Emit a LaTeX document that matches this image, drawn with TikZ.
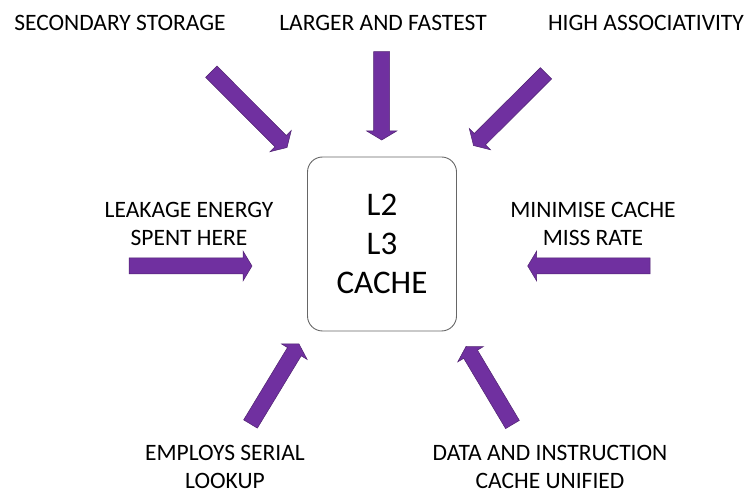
\documentclass[tikz,border=0pt]{standalone}
\usepackage{fontspec}
\setmainfont{Carlito}
\usetikzlibrary{calc}
\definecolor{arrowpurple}{HTML}{7030A0}
\definecolor{arrowedge}{HTML}{4F2270}
\definecolor{boxedge}{HTML}{666666}
\tikzset{
  arrowfill/.style={fill=arrowpurple, draw=arrowedge, line width=0.5pt, line join=miter},
  cachebox/.style={draw=boxedge, line width=0.9pt, rounded corners=15pt, minimum width=149pt, minimum height=174pt, align=center, font=\fontsize{33}{39}\selectfont, inner sep=0pt},
  lbl/.style={align=center, font=\fontsize{23.5}{28}\selectfont, inner sep=0pt}
}
\newcommand\blockarr[2]{%
  \coordinate (b#1) at ($(#2)!9pt!(#1)$);
  \path[arrowfill] ($(#1)!8pt!90:(#2)$) -- ($(b#1)!8pt!-90:(#1)$) -- ($(b#1)!15pt!-90:(#1)$) -- (#2)
     -- ($(b#1)!15pt!90:(#1)$) -- ($(b#1)!8pt!90:(#1)$) -- ($(#1)!8pt!-90:(#2)$) -- cycle;}
\begin{document}
\begin{tikzpicture}[x=1pt,y=-1pt]
\useasboundingbox (0,0) rectangle (745,494);
\node[cachebox] (box) at (382,244) {L2\\L3\\CACHE};
\node[lbl] (sec) at (120,22.7) {SECONDARY STORAGE};
\node[lbl] (lar) at (383,22.7) {LARGER AND FASTEST};
\node[lbl] (hig) at (646,22.7) {HIGH ASSOCIATIVITY};
\node[lbl] (lea) at (189,224) {LEAKAGE ENERGY\\SPENT HERE};
\node[lbl] (min) at (593,224) {MINIMISE CACHE\\MISS RATE};
\node[lbl] (emp) at (225,466.7) {EMPLOYS SERIAL\\LOOKUP};
\node[lbl] (dat) at (550,466.7) {DATA AND INSTRUCTION\\CACHE UNIFIED};
\coordinate (t1) at (211.3,71.7);  \coordinate (h1) at (287,147.5);
\coordinate (t2) at (381.7,51.7);  \coordinate (h2) at (381.7,140);
\coordinate (t3) at (546,73.3);    \coordinate (h3) at (473.5,145.5);
\coordinate (t4) at (129,266);     \coordinate (h4) at (252,266);
\coordinate (t5) at (650,266);     \coordinate (h5) at (527.7,266);
\coordinate (t6) at (250.5,424);   \coordinate (h6) at (299,344);
\coordinate (t7) at (512.5,424.5); \coordinate (h7) at (466,346.5);
\blockarr{t1}{h1}
\blockarr{t2}{h2}
\blockarr{t3}{h3}
\blockarr{t4}{h4}
\blockarr{t5}{h5}
\blockarr{t6}{h6}
\blockarr{t7}{h7}
\end{tikzpicture}
\end{document}
